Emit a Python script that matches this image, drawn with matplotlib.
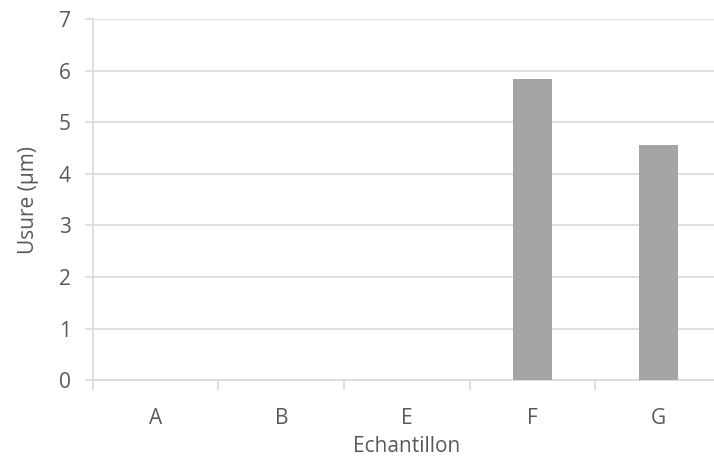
import matplotlib
matplotlib.use("Agg")
import matplotlib.pyplot as plt
import numpy as np

# data
samples = ["A", "B", "E", "F", "G"]
wear_um = [0, 0, 0, 5.84, 4.56]

text_col = "#595959"
grid_col = "#d9d9d9"
bar_col = "#a5a5a5"

plt.rcParams["font.family"] = ["Open Sans", "DejaVu Sans"]
fs = 15

fig = plt.figure(figsize=(7.14, 4.59), dpi=100)
ax = fig.add_axes([0.130, 0.172, 0.880, 0.786])

x = np.arange(len(samples))
ax.bar(x, wear_um, width=0.31, color=bar_col, zorder=3)

ax.set_xlim(-0.5, len(samples) - 0.5)
ax.set_ylim(0, 7)
ax.set_yticks(range(0, 8))
ax.yaxis.grid(True, color=grid_col, linewidth=1.2, zorder=0)

ax.set_xticks(x)
ax.set_xticklabels(samples)
ax.set_xticks(np.arange(len(samples) + 1) - 0.5, minor=True)
ax.tick_params(axis="x", which="major", length=0, pad=20, labelsize=fs, labelcolor=text_col)
ax.tick_params(axis="x", which="minor", length=7, color=grid_col, width=1.2)
ax.tick_params(axis="y", length=6, color=grid_col, width=1.2, pad=10, labelsize=fs, labelcolor=text_col)

for side in ["top", "right"]:
    ax.spines[side].set_visible(False)
ax.spines["left"].set_color(grid_col)
ax.spines["bottom"].set_color(grid_col)
ax.spines["left"].set_linewidth(1.2)
ax.spines["bottom"].set_linewidth(1.2)

ax.set_xlabel("Echantillon", fontsize=fs, color=text_col, labelpad=5)
ax.set_ylabel("Usure (µm)", fontsize=fs, color=text_col, labelpad=14)

fig.savefig("out.png", dpi=100)
